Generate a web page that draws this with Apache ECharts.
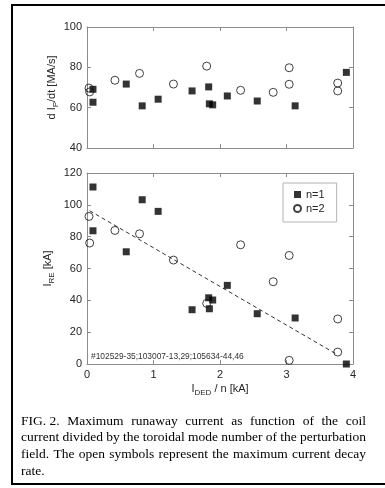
<!DOCTYPE html>
<html>
<head>
<meta charset="utf-8">
<script src="https://cdn.jsdelivr.net/npm/echarts@6/dist/echarts.min.js"></script>
<style>
  html, body { margin: 0; padding: 0; background: #fff; }
  #chart { width: 385px; height: 488px; }
</style>
</head>
<body>
<div id="chart"></div>
<script>
// Coil current divided by toroidal mode number, I_DED / n [kA]
const n1X = [0.09, 0.09, 0.59, 0.83, 1.07, 1.58, 1.83, 1.84, 1.89, 2.11, 2.56, 3.13, 3.90];
const n2X = [0.03, 0.04, 0.42, 0.79, 1.30, 1.80, 2.31, 2.80, 3.04, 3.04, 3.77, 3.77];

// Maximum current decay rate d I_P/dt [MA/s]
const decayN1 = [69.1, 62.7, 71.7, 60.9, 64.2, 68.3, 70.3, 61.9, 61.4, 65.8, 63.3, 60.9, 77.5];
const decayN2 = [69.7, 67.8, 73.6, 77.0, 71.7, 80.6, 68.6, 67.6, 79.8, 71.6, 72.2, 68.3];

// Maximum runaway current I_RE [kA]
const reN1 = [111.2, 83.7, 70.5, 103.2, 95.9, 34.1, 41.6, 34.7, 40.2, 49.4, 31.6, 28.9, 0.0];
const reN2 = [92.7, 76.0, 83.9, 81.8, 65.3, 38.1, 74.9, 51.7, 68.2, 2.3, 28.3, 7.5];

// Linear trend of I_RE versus I_DED / n
const fitX = [0.04, 3.76];
const fitY = [96.3, 6.0];

// Axis ticks
const xTicks = [0, 1, 2, 3, 4];
const decayTicks = [40, 60, 80, 100];
const reTicks = [0, 20, 40, 60, 80, 100, 120];

const shotList = '#102529-35;103007-13,29;105634-44,46';
const captionLines = [
  ['FIG. 2.', 'Maximum', 'runaway', 'current', 'as', 'function', 'of', 'the', 'coil'],
  ['current', 'divided', 'by', 'the', 'toroidal', 'mode', 'number', 'of', 'the', 'perturbation'],
  ['field.', 'The', 'open', 'symbols', 'represent', 'the', 'maximum', 'current', 'decay'],
  ['rate.']
];

const SANS = '"Liberation Sans", Arial, Helvetica, sans-serif';
const SERIF = '"Liberation Serif", "Times New Roman", serif';
const FRAME = '#8c8c8c';
const INK = '#262626';

const zip = (xs, ys) => xs.map((x, i) => [x, ys[i]]);
const step = t => t[1] - t[0];

function valueAxis(gridIndex, position, ticks, showLabels, extra) {
  return Object.assign({
    type: 'value',
    gridIndex: gridIndex,
    position: position,
    min: ticks[0],
    max: ticks[ticks.length - 1],
    interval: step(ticks),
    nameMoveOverlap: false,
    axisLine: { show: true, onZero: false, lineStyle: { color: FRAME, width: 1 } },
    axisTick: { show: true, inside: true, length: 4, lineStyle: { color: FRAME, width: 1 } },
    splitLine: { show: false },
    axisLabel: { show: showLabels, color: INK, fontSize: 11, fontFamily: SANS, margin: 5 }
  }, extra || {});
}

const nameRich = {
  m: { fontSize: 11, fontFamily: SANS, color: INK, lineHeight: 16, verticalAlign: 'middle' },
  s: { fontSize: 8, fontFamily: SANS, color: INK, lineHeight: 8, verticalAlign: 'bottom' }
};

const xAxes = [
  valueAxis(0, 'bottom', xTicks, false),
  valueAxis(0, 'top', xTicks, false),
  valueAxis(1, 'bottom', xTicks, true, {
    name: '{m|I}{s|DED}{m| / n [kA]}',
    nameLocation: 'middle',
    nameGap: 17,
    nameTextStyle: { rich: nameRich }
  }),
  valueAxis(1, 'top', xTicks, false)
];

const yAxes = [
  valueAxis(0, 'left', decayTicks, true, {
    name: '{m|d I}{s|P}{m|/dt [MA/s]}',
    nameLocation: 'middle',
    nameRotate: 90,
    nameGap: 27,
    nameTextStyle: { rich: nameRich }
  }),
  valueAxis(0, 'right', decayTicks, false),
  valueAxis(1, 'left', reTicks, true, {
    name: '{m|I}{s|RE}{m| [kA]}',
    nameLocation: 'middle',
    nameRotate: 90,
    nameGap: 31,
    nameTextStyle: { rich: nameRich }
  }),
  valueAxis(1, 'right', reTicks, false)
];

const squareStyle = { color: '#000' };
const circleStyle = { color: 'rgba(255,255,255,0)', borderColor: '#111', borderWidth: 1 };

function scatter(name, xIdx, yIdx, data, isCircle) {
  return {
    type: 'scatter',
    name: name,
    xAxisIndex: xIdx,
    yAxisIndex: yIdx,
    data: data,
    symbol: isCircle ? 'circle' : 'rect',
    symbolSize: isCircle ? 8 : 7,
    itemStyle: isCircle ? circleStyle : squareStyle,
    emphasis: { disabled: true },
    z: isCircle ? 3 : 2
  };
}

// Caption words, spread across the column width (last line left-aligned)
function captionGraphics() {
  const ctx = document.createElement('canvas').getContext('2d');
  const font = '13.5px ' + SERIF;
  ctx.font = font;
  const left = 21, right = 366, top = 421, lineStep = 16.8;
  const items = [];
  captionLines.forEach((words, li) => {
    const widths = words.map(w => ctx.measureText(w).width);
    const total = widths.reduce((a, b) => a + b, 0);
    const last = li === captionLines.length - 1;
    const gap = last ? ctx.measureText(' ').width : (right - left - total) / (words.length - 1);
    let x = left;
    words.forEach((w, i) => {
      items.push({
        type: 'text',
        silent: true,
        style: {
          text: w, x: x, y: top + li * lineStep,
          font: font, fill: '#000',
          textAlign: 'left', textVerticalAlign: 'middle'
        }
      });
      x += widths[i] + gap;
    });
  });
  return items;
}

const chart = echarts.init(document.getElementById('chart'), null, { renderer: 'canvas' });

chart.setOption({
  animation: false,
  backgroundColor: '#fff',
  grid: [
    { left: 87, width: 266, top: 27, height: 121 },
    { left: 87, width: 266, top: 173, height: 191 }
  ],
  xAxis: xAxes,
  yAxis: yAxes,
  legend: {
    data: ['n=1', 'n=2'],
    orient: 'vertical',
    left: 283,
    top: 183,
    padding: [6, 12, 8, 10],
    itemWidth: 7,
    itemHeight: 7,
    itemGap: 3,
    selectedMode: false,
    backgroundColor: '#fff',
    borderColor: '#b4b4b4',
    borderWidth: 1,
    textStyle: { color: INK, fontSize: 11, fontFamily: SANS, lineHeight: 11 }
  },
  series: [
    scatter('n=1', 0, 0, zip(n1X, decayN1), false),
    scatter('n=2', 0, 0, zip(n2X, decayN2), true),
    {
      type: 'line',
      name: 'fit',
      xAxisIndex: 2,
      yAxisIndex: 2,
      data: zip(fitX, fitY),
      symbol: 'none',
      lineStyle: { color: '#333', width: 1, type: [4, 3] },
      emphasis: { disabled: true },
      z: 1
    },
    scatter('n=1', 2, 2, zip(n1X, reN1), false),
    scatter('n=2', 2, 2, zip(n2X, reN2), true)
  ],
  graphic: [
    {
      type: 'rect',
      silent: true,
      shape: { x: 12, y: 5, width: 390, height: 479 },
      style: { fill: 'none', stroke: '#000', lineWidth: 2 }
    },
    {
      type: 'text',
      silent: true,
      style: {
        text: shotList, x: 91, y: 357,
        font: '8.4px ' + SANS, fill: '#333',
        textAlign: 'left', textVerticalAlign: 'middle'
      }
    }
  ].concat(captionGraphics())
});
</script>
</body>
</html>
